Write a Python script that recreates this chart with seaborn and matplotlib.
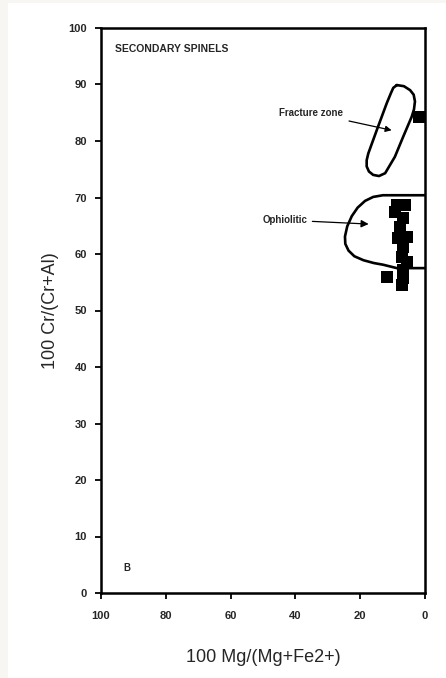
import matplotlib
matplotlib.use("Agg")
import matplotlib.pyplot as plt
import seaborn as sns
import pandas as pd
from matplotlib.patches import Rectangle

sns.set_theme(style="white")
plt.rcParams['font.family'] = ['Liberation Sans', 'DejaVu Sans']

# Data: secondary spinel analyses
mg_number = [8.6, 6.2, 9.3, 6.8, 7.7, 5.6, 8.3, 6.8, 7.1, 5.6, 6.8, 11.7, 6.8, 7.1, 1.9]
cr_number = [68.7, 68.7, 67.4, 66.4, 64.8, 63.0, 62.8, 61.2, 59.5, 58.6, 57.2, 55.9, 55.8, 54.5, 84.2]

# Fracture zone envelope
fz_x = [8.7, 6.5, 4.6, 3.5, 3.1, 3.4, 4.1, 6.7, 9.3, 12.3, 14.2, 16.0, 17.3, 18.0, 18.0, 17.5, 14.9, 11.8, 10.5, 9.8, 8.7]
fz_y = [89.9, 89.7, 89.0, 88.2, 87.0, 85.6, 84.3, 80.8, 77.2, 74.3, 73.8, 74.0, 74.6, 75.5, 76.6, 77.8, 81.9, 86.7, 88.5, 89.4, 89.9]

# Ophiolitic envelope (open to the right axis)
oph_x = [0.0, 13.0, 16.0, 18.5, 20.8, 22.6, 24.0, 24.7, 24.6, 23.6, 21.8, 19.0, 15.8, 12.9, 8.7, 0.0]
oph_y = [70.4, 70.4, 70.1, 69.4, 68.2, 66.7, 64.9, 63.1, 61.8, 60.6, 59.6, 58.9, 58.4, 58.1, 57.5, 57.5]

x_ticks = [100, 80, 60, 40, 20, 0]
y_ticks = [0, 10, 20, 30, 40, 50, 60, 70, 80, 90, 100]

df = pd.DataFrame({"mg": mg_number, "cr": cr_number})

fig = plt.figure(figsize=(4.46, 6.78), dpi=100)
fig.patch.set_facecolor("white")
fig.patches.append(Rectangle((0, 0), 8 / 446, 1, transform=fig.transFigure,
                             facecolor="#f7f6f2", edgecolor="none", zorder=-10))
fig.patches.append(Rectangle((0, 1 - 3 / 678), 1, 3 / 678, transform=fig.transFigure,
                             facecolor="#f7f6f2", edgecolor="none", zorder=-10))

ax = fig.add_axes([101 / 446, 85 / 678, 324 / 446, 565 / 678])
ax.set_facecolor("white")

ax.plot(fz_x, fz_y, color="black", lw=1.9, solid_joinstyle="round", zorder=2)
ax.plot(oph_x, oph_y, color="black", lw=1.9, solid_joinstyle="round", zorder=2)

sns.scatterplot(data=df, x="mg", y="cr", marker="s", s=70, color="black",
                edgecolor="black", linewidth=0, ax=ax, zorder=3, clip_on=True)

ax.set_xlim(100, 0)
ax.set_ylim(0, 100)
ax.set_xticks(x_ticks)
ax.set_yticks(y_ticks)
ax.set_xticklabels([str(t) for t in x_ticks], fontsize=8, fontweight="bold")
ax.set_yticklabels([str(t) for t in y_ticks], fontsize=8, fontweight="bold")
ax.tick_params(axis="x", direction="out", length=4, width=1.3, color="black",
               bottom=True, pad=9)
ax.tick_params(axis="y", direction="out", length=4, width=1.3, color="black",
               left=True, pad=6)
for sp in ax.spines.values():
    sp.set_visible(True)
    sp.set_color("black")
    sp.set_linewidth(1.8)

ax.set_xlabel("100 Mg/(Mg+Fe2+)", fontsize=13, labelpad=20)
ax.set_ylabel("100 Cr/(Cr+Al)", fontsize=13, labelpad=7)

ax.text(95.7, 96.3, "SECONDARY SPINELS", fontsize=7.5, fontweight="bold",
        ha="left", va="center")
ax.text(92, 4.4, "B", fontsize=7, fontweight="bold", ha="center", va="center")

ax.annotate("Fracture zone", xy=(10.3, 81.9), xytext=(25.3, 85.0),
            fontsize=7, fontweight="bold", ha="right", va="center",
            arrowprops=dict(arrowstyle="-|>", color="black", lw=0.9,
                            mutation_scale=9, shrinkA=2, shrinkB=0))
ax.annotate("Ophiolitic", xy=(17.4, 65.3), xytext=(36.2, 66.0),
            fontsize=7, fontweight="bold", ha="right", va="center",
            arrowprops=dict(arrowstyle="-|>", color="black", lw=0.9,
                            mutation_scale=11, shrinkA=1, shrinkB=0))

fig.savefig("out.png", dpi=100)
